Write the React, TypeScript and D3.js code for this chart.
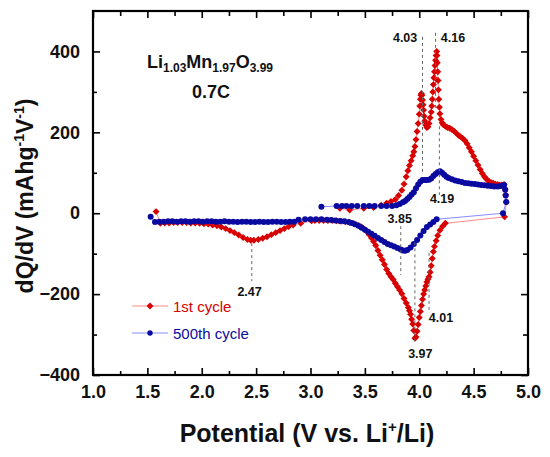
import React, { useEffect, useRef } from "react";
import * as d3 from "d3";

// [potential (V), dQ/dV (mAh g-1 V-1)]
const cycle1Charge: [number, number][] = [
    [3.27, 12], [3.36, 8], [3.49, 12], [3.58, 14], [3.65, 20], [3.7, 25], [3.74, 29], [3.78, 34],
    [3.81, 44], [3.84, 57], [3.86, 72], [3.88, 90], [3.895, 105], [3.91, 118], [3.925, 130],
    [3.94, 142], [3.95, 152], [3.96, 165], [3.97, 182], [3.98, 202], [3.99, 222], [4.0, 245],
    [4.005, 265], [4.01, 282], [4.015, 292], [4.02, 296], [4.025, 292], [4.03, 280], [4.035, 268],
    [4.04, 255], [4.045, 240], [4.05, 228], [4.06, 218], [4.07, 212], [4.08, 214], [4.09, 222],
    [4.1, 236], [4.11, 250], [4.115, 265], [4.12, 282], [4.125, 300], [4.13, 318], [4.135, 335],
    [4.14, 350], [4.145, 365], [4.15, 378], [4.155, 390], [4.16, 400], [4.163, 390], [4.166, 372],
    [4.17, 350], [4.173, 328], [4.176, 305], [4.18, 282], [4.185, 262], [4.19, 246], [4.2, 232],
    [4.21, 224], [4.22, 219], [4.24, 215], [4.26, 212], [4.28, 210], [4.3, 207], [4.32, 203],
    [4.34, 198], [4.36, 193], [4.38, 189], [4.4, 185], [4.42, 180], [4.44, 172], [4.46, 162],
    [4.48, 152], [4.5, 141], [4.52, 130], [4.54, 119], [4.56, 108], [4.58, 98], [4.6, 90],
    [4.62, 84], [4.64, 79], [4.66, 76], [4.68, 74], [4.7, 72], [4.72, 71], [4.74, 70], [4.76, 70],
    [4.78, 71], [4.79, 60], [4.795, 45], [4.8, 28],
];

const cycle1Discharge: [number, number][] = [
    [4.785, -9], [4.24, -25], [4.215, -32], [4.19, -42], [4.17, -55], [4.155, -68], [4.14, -82],
    [4.13, -95], [4.12, -112], [4.11, -130], [4.1, -146], [4.09, -157], [4.08, -163], [4.07, -170],
    [4.06, -180], [4.05, -190], [4.04, -200], [4.03, -213], [4.02, -228], [4.01, -243], [4.0, -258],
    [3.99, -275], [3.98, -292], [3.97, -306], [3.96, -309], [3.95, -290], [3.94, -274], [3.93, -262],
    [3.92, -250], [3.91, -241], [3.9, -233], [3.88, -222], [3.86, -211], [3.84, -199], [3.82, -190],
    [3.8, -182], [3.78, -173], [3.76, -164], [3.74, -157], [3.72, -149], [3.7, -139], [3.68, -127],
    [3.66, -115], [3.64, -104], [3.62, -92], [3.6, -80], [3.58, -70], [3.56, -61], [3.54, -53],
    [3.52, -46], [3.5, -40], [3.47, -34], [3.44, -30], [3.4, -26], [3.36, -23], [3.32, -21],
    [3.28, -20], [3.24, -19], [3.2, -18], [3.16, -18], [3.12, -18], [3.08, -18], [3.04, -18],
    [3.01, -19], [2.91, -25], [2.84, -29], [2.8, -33], [2.76, -38], [2.72, -43], [2.68, -48],
    [2.64, -53], [2.6, -58], [2.56, -62], [2.52, -65], [2.48, -67], [2.45, -67], [2.42, -65],
    [2.38, -60], [2.34, -54], [2.3, -48], [2.26, -43], [2.22, -38], [2.18, -34], [2.14, -31],
    [2.1, -29], [2.06, -27], [2.02, -26], [1.98, -25], [1.94, -24], [1.9, -24], [1.86, -23],
    [1.82, -23], [1.78, -23], [1.74, -23], [1.7, -24], [1.66, -24], [1.62, -25], [1.58, 4],
];

const cycle500Charge: [number, number][] = [
    [3.1, 16], [3.24, 18], [3.29, 18], [3.33, 18], [3.38, 18], [3.43, 18], [3.49, 18], [3.54, 18],
    [3.59, 18], [3.65, 18], [3.7, 18], [3.75, 18], [3.79, 20], [3.82, 23], [3.85, 27], [3.87, 30],
    [3.89, 35], [3.91, 40], [3.93, 46], [3.95, 52], [3.97, 62], [3.99, 71], [4.01, 78], [4.03, 82],
    [4.05, 82], [4.07, 82], [4.09, 83], [4.11, 86], [4.13, 92], [4.15, 97], [4.17, 101], [4.19, 104],
    [4.21, 100], [4.23, 95], [4.25, 90], [4.27, 87], [4.3, 84], [4.33, 81], [4.36, 79], [4.39, 77],
    [4.42, 75], [4.45, 74], [4.48, 73], [4.51, 72], [4.54, 71], [4.57, 70], [4.6, 69], [4.63, 68],
    [4.66, 67], [4.69, 66], [4.72, 66], [4.75, 67], [4.78, 70], [4.79, 58], [4.795, 44], [4.8, 28],
];

const cycle500Discharge: [number, number][] = [
    [4.77, 0], [4.16, -15], [4.13, -22], [4.1, -28], [4.07, -34], [4.04, -44], [4.01, -55],
    [3.98, -66], [3.95, -76], [3.92, -85], [3.89, -91], [3.87, -93], [3.85, -92], [3.83, -90],
    [3.8, -86], [3.77, -82], [3.74, -79], [3.71, -76], [3.68, -71], [3.65, -66], [3.62, -61],
    [3.59, -56], [3.56, -51], [3.53, -46], [3.5, -41], [3.47, -36], [3.44, -31], [3.41, -27],
    [3.38, -24], [3.35, -22], [3.31, -20], [3.27, -19], [3.23, -18], [3.19, -17], [3.15, -16],
    [3.1, -15], [3.05, -15], [3.0, -15], [2.95, -15], [2.89, -16], [2.85, -21], [2.81, -21],
    [2.77, -22], [2.73, -22], [2.69, -21], [2.65, -21], [2.61, -22], [2.57, -22], [2.53, -21],
    [2.49, -22], [2.45, -22], [2.41, -21], [2.37, -21], [2.33, -22], [2.29, -21], [2.25, -21],
    [2.21, -20], [2.17, -21], [2.13, -21], [2.09, -20], [2.05, -20], [2.01, -21], [1.97, -20],
    [1.93, -20], [1.89, -21], [1.85, -20], [1.81, -20], [1.77, -21], [1.73, -20], [1.69, -20],
    [1.65, -21], [1.61, -21], [1.57, -22], [1.53, -9],
];

const xTicks = [1.0, 1.5, 2.0, 2.5, 3.0, 3.5, 4.0, 4.5, 5.0];
const xMinorTicks = [1.25, 1.75, 2.25, 2.75, 3.25, 3.75, 4.25, 4.75];
const yTicks = [-400, -200, 0, 200, 400];
const yMinorTicks = [-300, -100, 100, 300];

// peak potentials: label text, label anchor (V, value)
const peakLabels = [
    { text: "4.03", x: 3.87, y: 423 },
    { text: "4.16", x: 4.31, y: 423 },
    { text: "4.19", x: 4.21, y: 25 },
    { text: "3.85", x: 3.82, y: -24 },
    { text: "2.47", x: 2.44, y: -205 },
    { text: "4.01", x: 4.2, y: -269 },
    { text: "3.97", x: 4.01, y: -358 },
];

// dashed guides: potential, from value, to value
const guides = [
    { x: 4.03, y1: 436, y2: 95 },
    { x: 4.15, y1: 446, y2: 260 },
    { x: 4.185, y1: 215, y2: 45 },
    { x: 3.83, y1: -32, y2: -153 },
    { x: 3.96, y1: -72, y2: -322 },
    { x: 4.09, y1: -98, y2: -240 },
    { x: 2.46, y1: -74, y2: -168 },
];

const FONT = "'Liberation Sans', Arial, sans-serif";
const RED = "#d80000";
const BLUE = "#0a0aa0";

const App = () => {
    const svgRef = useRef<SVGSVGElement>(null);

    useEffect(() => {
        const svg = d3.select(svgRef.current);
        svg.selectAll("*").remove();

        const left = 93, right = 528, top = 11, bottom = 375;
        const x = d3.scaleLinear().domain([1, 5]).range([left, right]);
        const y = d3.scaleLinear().domain([-400, 500]).range([bottom, top]);

        const g = svg.append("g");

        const styleAxis = (sel, labels = true) => {
            sel.select(".domain").remove();
            sel.selectAll(".tick line").attr("stroke", "#000").attr("stroke-width", 1.6);
            if (labels) {
                sel.selectAll("text")
                    .attr("font-family", FONT)
                    .attr("font-size", 18)
                    .attr("font-weight", "bold")
                    .attr("fill", "#111");
            } else {
                sel.selectAll("text").remove();
            }
        };

        // bottom / left with labels
        g.append("g")
            .attr("transform", `translate(0,${bottom})`)
            .call(d3.axisBottom(x).tickValues(xTicks).tickSize(-7).tickPadding(10).tickFormat(d3.format(".1f")))
            .call((s) => styleAxis(s));
        g.append("g")
            .attr("transform", `translate(${left},0)`)
            .call(d3.axisLeft(y).tickValues(yTicks).tickSize(-7).tickPadding(13))
            .call((s) => styleAxis(s));

        // minor ticks and mirrored ticks on top / right
        g.append("g").attr("transform", `translate(0,${bottom})`)
            .call(d3.axisBottom(x).tickValues(xMinorTicks).tickSize(-4))
            .call((s) => styleAxis(s, false));
        g.append("g").attr("transform", `translate(${left},0)`)
            .call(d3.axisLeft(y).tickValues(yMinorTicks).tickSize(-4))
            .call((s) => styleAxis(s, false));
        g.append("g").attr("transform", `translate(0,${top})`)
            .call(d3.axisTop(x).tickValues(xTicks).tickSize(-7))
            .call((s) => styleAxis(s, false));
        g.append("g").attr("transform", `translate(0,${top})`)
            .call(d3.axisTop(x).tickValues(xMinorTicks).tickSize(-5))
            .call((s) => styleAxis(s, false));
        g.append("g").attr("transform", `translate(${right},0)`)
            .call(d3.axisRight(y).tickValues(yTicks).tickSize(-7))
            .call((s) => styleAxis(s, false));
        g.append("g").attr("transform", `translate(${right},0)`)
            .call(d3.axisRight(y).tickValues(yMinorTicks).tickSize(-5))
            .call((s) => styleAxis(s, false));

        // frame
        g.append("rect")
            .attr("x", left).attr("y", top)
            .attr("width", right - left).attr("height", bottom - top)
            .attr("fill", "none").attr("stroke", "#000").attr("stroke-width", 2.2);

        const line = d3.line<[number, number]>().x((d) => x(d[0])).y((d) => y(d[1]));
        const cycle1 = [...cycle1Charge, ...cycle1Discharge];
        const cycle500 = [...cycle500Charge, ...cycle500Discharge];

        // thin connecting lines
        g.append("path").datum(cycle1).attr("fill", "none").attr("stroke", "#ff8a8a").attr("stroke-width", 1).attr("d", line);
        g.append("path").datum(cycle500).attr("fill", "none").attr("stroke", "#8a8aff").attr("stroke-width", 1).attr("d", line);

        // markers
        const diamond = d3.symbol().type(d3.symbolSquare).size(24)();
        g.append("g").selectAll("path")
            .data(cycle1)
            .enter()
            .append("path")
            .attr("d", diamond)
            .attr("transform", (d) => `translate(${x(d[0])},${y(d[1])}) rotate(45)`)
            .attr("fill", RED);
        g.append("g").selectAll("circle")
            .data(cycle500)
            .enter()
            .append("circle")
            .attr("cx", (d) => x(d[0]))
            .attr("cy", (d) => y(d[1]))
            .attr("r", 3)
            .attr("fill", BLUE);

        // dashed guides
        g.append("g").selectAll("line")
            .data(guides)
            .enter()
            .append("line")
            .attr("x1", (d) => x(d.x)).attr("x2", (d) => x(d.x))
            .attr("y1", (d) => y(d.y1)).attr("y2", (d) => y(d.y2))
            .attr("stroke", "#666").attr("stroke-width", 1).attr("stroke-dasharray", "3,3");

        // peak labels
        g.append("g").selectAll("text")
            .data(peakLabels)
            .enter()
            .append("text")
            .attr("x", (d) => x(d.x))
            .attr("y", (d) => y(d.y))
            .attr("text-anchor", "middle")
            .attr("font-family", FONT)
            .attr("font-size", 12.5)
            .attr("font-weight", "bold")
            .attr("fill", "#111")
            .text((d) => d.text);

        // composition and rate
        const formula = g.append("text")
            .attr("x", 210).attr("y", 68)
            .attr("text-anchor", "middle")
            .attr("font-family", FONT)
            .attr("font-weight", "bold")
            .attr("font-size", 18)
            .attr("fill", "#111");
        [["Li", false], ["1.03", true], ["Mn", false], ["1.97", true], ["O", false], ["3.99", true]].forEach(([t, sub]) => {
            formula.append("tspan")
                .attr("font-size", sub ? 12 : 18)
                .attr("dy", sub ? 4 : -4)
                .text(t as string);
        });
        formula.select("tspan").attr("dy", 0);
        g.append("text")
            .attr("x", 211).attr("y", 98)
            .attr("text-anchor", "middle")
            .attr("font-family", FONT)
            .attr("font-weight", "bold")
            .attr("font-size", 18)
            .attr("fill", "#111")
            .text("0.7C");

        // legend
        const legend = [
            { label: "1st cycle", color: RED, light: "#ff8a8a", shape: "diamond" },
            { label: "500th cycle", color: BLUE, light: "#8a8aff", shape: "circle" },
        ];
        legend.forEach((d, i) => {
            const ly = 306 + i * 27;
            g.append("line").attr("x1", 132).attr("x2", 168).attr("y1", ly).attr("y2", ly)
                .attr("stroke", d.light).attr("stroke-width", 1.2);
            if (d.shape === "diamond") {
                g.append("path").attr("d", diamond).attr("transform", `translate(150,${ly}) rotate(45)`).attr("fill", d.color);
            } else {
                g.append("circle").attr("cx", 150).attr("cy", ly).attr("r", 2.7).attr("fill", d.color);
            }
            g.append("text")
                .attr("x", 173).attr("y", ly + 5.5)
                .attr("font-family", FONT)
                .attr("font-size", 15)
                .attr("fill", d.color)
                .text(d.label);
        });

        // axis titles
        const xt = g.append("text")
            .attr("x", 307).attr("y", 442)
            .attr("text-anchor", "middle")
            .attr("font-family", FONT)
            .attr("font-weight", "bold")
            .attr("font-size", 25)
            .attr("fill", "#111");
        xt.append("tspan").text("Potential (V vs. Li");
        xt.append("tspan").attr("font-size", 15).attr("dy", -10).text("+");
        xt.append("tspan").attr("dy", 10).text("/Li)");

        const yt = g.append("text")
            .attr("transform", "translate(33,196) rotate(-90)")
            .attr("text-anchor", "middle")
            .attr("font-family", FONT)
            .attr("font-weight", "bold")
            .attr("font-size", 23)
            .attr("fill", "#111");
        yt.append("tspan").text("dQ/dV (mAhg");
        yt.append("tspan").attr("font-size", 14).attr("dy", -9).text("-1");
        yt.append("tspan").attr("dy", 9).text("V");
        yt.append("tspan").attr("font-size", 14).attr("dy", -9).text("-1");
        yt.append("tspan").attr("dy", 9).text(")");
    }, []);

    return (
        <svg
            ref={svgRef}
            width={550}
            height={457}
            style={{ position: "absolute", left: 0, top: 0, background: "#fff" }}
        ></svg>
    );
};

export default App;
